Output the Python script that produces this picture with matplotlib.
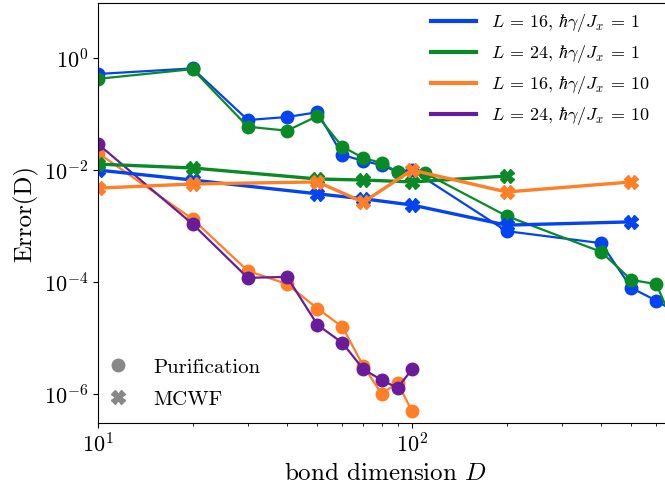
# -*- coding: utf-8 -*-
# plot.py
import numpy as np
import matplotlib
matplotlib.use("Agg")
import matplotlib.pyplot as plt
from matplotlib.lines import Line2D
from matplotlib.ticker import NullLocator, NullFormatter

## purification data (circles)
D_pur_b = [10, 20, 30, 40, 50, 60, 70, 80, 90, 100, 200, 400, 500, 600, 700]
E_pur_b = [0.525, 0.66, 0.079, 0.0895, 0.109, 0.0188, 0.0147, 0.0124, 0.0093,
           0.0101, 8.2e-4, 5.0e-4, 7.9e-5, 4.7e-5, 2.8e-5]
D_pur_g = [10, 20, 30, 40, 50, 60, 70, 80, 90, 110, 200, 400, 500, 600, 700]
E_pur_g = [0.43, 0.64, 0.060, 0.051, 0.093, 0.0264, 0.0166, 0.0135, 0.0093,
           0.0089, 1.53e-3, 3.5e-4, 1.1e-4, 9.3e-5, 1.25e-5]
D_pur_o = [10, 20, 30, 40, 50, 60, 70, 80, 90, 100]
E_pur_o = [0.0204, 1.35e-3, 1.6e-4, 9.3e-5, 3.4e-5, 1.6e-5, 3.2e-6, 1.02e-6,
           1.6e-6, 5.0e-7]
D_pur_p = [10, 20, 30, 40, 50, 60, 70, 80, 90, 100]
E_pur_p = [0.0295, 1.1e-3, 1.2e-4, 1.25e-4, 1.74e-5, 8.3e-6, 2.8e-6, 1.8e-6,
           1.3e-6, 2.8e-6]

## MCWF data (crosses)
D_mc_b = [10, 20, 50, 70, 100, 200, 500]
E_mc_b = [0.0101, 6.7e-3, 3.8e-3, 3.1e-3, 2.4e-3, 1.05e-3, 1.2e-3]
D_mc_g = [10, 20, 50, 70, 100, 200]
E_mc_g = [0.0129, 0.011, 7.0e-3, 6.7e-3, 6.2e-3, 7.9e-3]
D_mc_o = [10, 20, 50, 70, 100, 200, 500]
E_mc_o = [4.8e-3, 5.7e-3, 6.2e-3, 2.7e-3, 0.0101, 4.1e-3, 6.2e-3]

labels = [r'$L$ = 16, $\hbar\gamma/J_x$ = 1', r'$L$ = 24, $\hbar\gamma/J_x$ = 1',
          r'$L$ = 16, $\hbar\gamma/J_x$ = 10', r'$L$ = 24, $\hbar\gamma/J_x$ = 10']
colors = ['#0343f0', '#0a8a26', '#ff7f27', '#6a1b9a']
yticks = [1e-6, 1e-4, 1e-2, 1e0]

plt.rcParams['font.family'] = 'serif'
plt.rcParams['font.serif'] = ['cmr10']
plt.rcParams['mathtext.fontset'] = 'cm'
plt.rcParams['axes.formatter.use_mathtext'] = True

fig = plt.figure(figsize=(6.65, 4.9), dpi=100)
ax = fig.add_axes([98 / 665, 1 - 423 / 490, 574 / 665, 420 / 490])

## purification curves
pur = [(D_pur_b, E_pur_b), (D_pur_g, E_pur_g), (D_pur_o, E_pur_o), (D_pur_p, E_pur_p)]
for (d, e), c in zip(pur, colors):
    ax.plot(d, e, '-o', color=c, lw=1.6, ms=9)

## MCWF curves
mc = [(D_mc_b, E_mc_b), (D_mc_g, E_mc_g), (D_mc_o, E_mc_o)]
for (d, e), c in zip(mc, colors):
    ax.plot(d, e, '-X', color=c, lw=2.4, ms=10)

ax.set_xscale('log')
ax.set_yscale('log')
ax.set_xlim(10, 10 ** (1 + 574 / 314))
ax.set_ylim(10 ** ((58.3 - 423) / 56), 10 ** ((58.3 - 3) / 56))
ax.set_yticks(yticks)
ax.yaxis.set_minor_locator(NullLocator())
ax.xaxis.set_minor_formatter(NullFormatter())
ax.tick_params(labelsize=16)
ax.spines['right'].set_visible(False)

ax.set_xlabel(r'bond dimension $D$', fontsize=18)
ax.set_ylabel(r'Error(D)', fontsize=18)

## legend for colors
h1 = [Line2D([], [], color=c, lw=3) for c in colors]
leg1 = ax.legend(h1, labels, loc='upper left', bbox_to_anchor=(0.5676, 0.995),
                 borderaxespad=0, frameon=False, fontsize=13,
                 handlelength=2.5, labelspacing=0.5)
ax.add_artist(leg1)

## legend for methods
h2 = [Line2D([], [], color='#888888', marker='o', ls='', ms=9),
      Line2D([], [], color='#888888', marker='X', ls='', ms=10)]
ax.legend(h2, ['Purification', 'MCWF'], loc='lower left',
          bbox_to_anchor=(-0.012, 0.014), borderaxespad=0, frameon=False,
          handlelength=1.8, labelspacing=0.65, fontsize=15)

fig.savefig('out.png', dpi=100)
